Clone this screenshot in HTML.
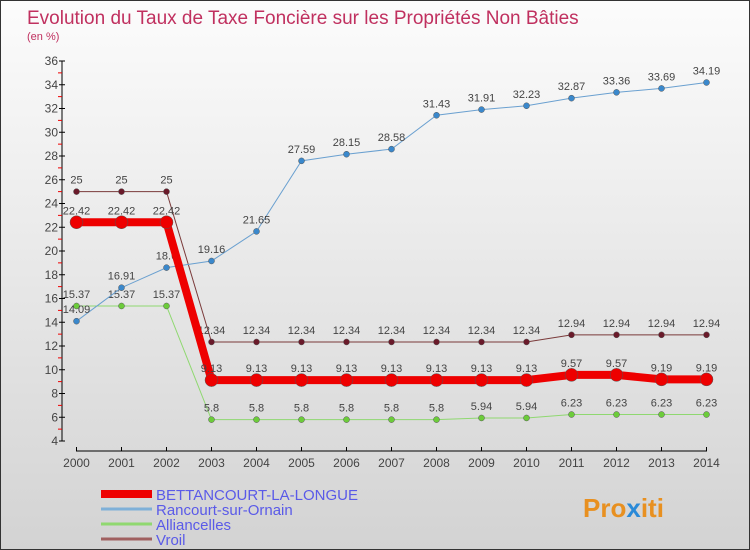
<!DOCTYPE html>
<html><head><meta charset="utf-8"><style>
body{margin:0}
#c{width:750px;height:550px;position:relative;overflow:hidden;font-family:"Liberation Sans",sans-serif;background:linear-gradient(#fcfcfc,#d3d3d3);border:1px solid #333;box-sizing:border-box}
</style></head><body>
<div id="c">
<svg id="s" width="750" height="550" xmlns="http://www.w3.org/2000/svg">
<text x="26" y="23" font-size="19" fill="#c0305f">Evolution du Taux de Taxe Foncière sur les Propriétés Non Bâties</text>
<text x="26" y="39" font-size="11" fill="#c0305f">(en %)</text>
<g id="axes"></g><g id="series"></g><g id="legend"></g>
<text x="582" y="516" font-size="26" font-weight="bold" fill="#e89020">Pro<tspan fill="#2a8ad8">x</tspan>iti</text>
</svg>
</div>
<script>
const years=[2000,2001,2002,2003,2004,2005,2006,2007,2008,2009,2010,2011,2012,2013,2014];
const yTicks=[4,6,8,10,12,14,16,18,20,22,24,26,28,30,32,34,36];
const bett=[22.42,22.42,22.42,9.13,9.13,9.13,9.13,9.13,9.13,9.13,9.13,9.57,9.57,9.19,9.19];
const ranc=[14.09,16.91,18.6,19.16,21.65,27.59,28.15,28.58,31.43,31.91,32.23,32.87,33.36,33.69,34.19];
const alli=[15.37,15.37,15.37,5.8,5.8,5.8,5.8,5.8,5.8,5.94,5.94,6.23,6.23,6.23,6.23];
const vroil=[25,25,25,12.34,12.34,12.34,12.34,12.34,12.34,12.34,12.34,12.94,12.94,12.94,12.94];
const labels=["BETTANCOURT-LA-LONGUE","Rancourt-sur-Ornain","Alliancelles","Vroil"];
const NS="http://www.w3.org/2000/svg";
const xs=i=>75.5+i*45;
const ys=v=>440-(v-4)*(380/32);
function mk(p,t,a){const e=document.createElementNS(NS,t);for(const k in a)e.setAttribute(k,a[k]);p.appendChild(e);return e;}
const ax=document.getElementById('axes');
let e=mk(ax,'line',{x1:61,y1:60,x2:61,y2:440,stroke:'#000'});


yTicks.forEach(v=>{
 mk(ax,'line',{x1:58,x2:64,y1:ys(v),y2:ys(v),stroke:'#000'});
 mk(ax,'line',{x1:57,x2:61,y1:ys(v+1),y2:ys(v+1),stroke:v<36?'#e00':'none'});
 const t=mk(ax,'text',{x:57,y:ys(v)+4,'font-size':12,'text-anchor':'end',fill:'#444'});t.textContent=v;
 
 
});
e=mk(ax,'line',{x1:75,y1:450,x2:706,y2:450,stroke:'#000'});


years.forEach((y,i)=>{
 mk(ax,'line',{x1:xs(i),x2:xs(i),y1:446,y2:450,stroke:'#000'});
 const t=mk(ax,'text',{x:xs(i),y:466,'font-size':12,'text-anchor':'middle',fill:'#444'});t.textContent=y;
 
 
});
const sg=document.getElementById('series');
function series(d,col,dot,w,r,name,lc){
 const g=mk(sg,'g',{});
 
 
 mk(g,'polyline',{points:d.map((v,i)=>xs(i)+','+ys(v)).join(' '),fill:'none',stroke:col,'stroke-width':w});
 d.forEach((v,i)=>{
  const c=mk(g,'circle',{cx:xs(i),cy:ys(v),r:r,fill:dot,stroke:'#555','stroke-width':0.5});
  
  
  const t=mk(g,'text',{x:xs(i),y:ys(v)-8,'font-size':11,'text-anchor':'middle',fill:lc});t.textContent=v;
  
  
 });
}
series(vroil,'#7a3a3a','#6a1a2a',1,3,'series-vroil','#444');
series(alli,'#8fd870','#6ccc3a',1,3,'series-alliancelles','#444');
series(ranc,'#6aa0d0','#3a88cc',1,3,'series-rancourt','#444');
series(bett,'#ee0000','#ee0000',8,6.5,'series-bettancourt','#444');
const lg=document.getElementById('legend');
const lcol=['#ee0000','#7fb0d8','#90d870','#a06060'],lw=[8,3,3,3],ly=[493,508,523,538];
labels.forEach((l,i)=>{
 const g=mk(lg,'g',{});
 
 
 mk(g,'line',{x1:100,x2:151,y1:ly[i],y2:ly[i],stroke:lcol[i],'stroke-width':lw[i]});
 const t=mk(g,'text',{x:155,y:ly[i]+6,'font-size':15,fill:'#5a5ae8'});t.textContent=l;
});
</script>
</body></html>
